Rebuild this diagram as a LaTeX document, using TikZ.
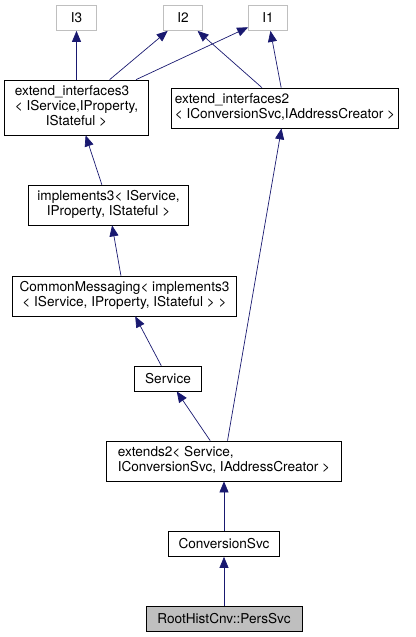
\documentclass[tikz,border=0pt]{standalone}
\usepackage{fontspec}
\setmainfont{TeX Gyre Heros}
\usepackage{tikz}
\usetikzlibrary{arrows.meta,positioning}

\definecolor{edgeblue}{HTML}{191970}
\definecolor{boxgray}{HTML}{BFBFBF}

\begin{document}
\begin{tikzpicture}[on grid,
	cls/.style={draw,rectangle,inner sep=0pt,line width=0.7pt,minimum height=25pt,
		font=\fontsize{13.6}{15}\selectfont},
	iface/.style={cls,draw=boxgray,minimum width=39pt},
	cur/.style={cls,fill=boxgray},
	edge/.style={-{Triangle[length=11pt,width=9pt]},draw=edgeblue,fill=edgeblue,line width=0.7pt}]
	\useasboundingbox (0,0) rectangle (415pt,-637pt);

	\node[cur,minimum width=156pt] (p_s) at (224pt,-619pt) {RootHistCnv::PersSvc};
	\node[cls,minimum width=111pt] (c_s) [above=75pt of p_s] {ConversionSvc};
	\node[cls,minimum width=235pt,minimum height=40pt] (e_2) [above=83pt of c_s]
		{\begin{tabular}{@{}l@{}}extends2< Service,\\\multicolumn{1}{@{}c@{}}{ IConversionSvc, IAddressCreator >}\end{tabular}};
	\node[cls,minimum width=67pt] (svc) [above left=82.5pt and 56pt of e_2] {Service};
	\node[cls,minimum width=224pt,minimum height=40pt] (c_m) [above left=82.5pt and 43.5pt of svc]
		{\begin{tabular}{@{}l@{}}CommonMessaging< implements3\\\multicolumn{1}{@{}c@{}}{< IService, IProperty, IStateful > >}\end{tabular}};
	\node[cls,minimum width=160pt,minimum height=40pt] (im_3) [above left=91pt and 16pt of c_m]
		{\begin{tabular}{@{}l@{}}implements3< IService,\\\multicolumn{1}{@{}c@{}}{ IProperty, IStateful >}\end{tabular}};
	\node[cls,minimum width=144pt,minimum height=55pt] (ei_3) [above left=97.5pt and 32pt of im_3]
		{\begin{tabular}{@{}l@{}}extend\_interfaces3\\< IService,IProperty,\\\multicolumn{1}{@{}c@{}}{IStateful >}\end{tabular}};
	\node[cls,minimum width=227pt,minimum height=40pt] (ei_2) [above right=353pt and 61pt of e_2]
		{\begin{tabular}{@{}l@{}}extend\_interfaces2\\\multicolumn{1}{@{}c@{}}{< IConversionSvc,IAddressCreator >}\end{tabular}};
	\node[iface,minimum width=40pt] (i_3) [above=89.5pt of ei_3] {I3};
	\node[iface] (i_2) [right=106.5pt of i_3] {I2};
	\node[iface] (i_1) [right=85pt of i_2] {I1};


	\path[edge]

	(ei_3) edge (i_3)
	       edge (i_2)
	       edge (i_1)

	(ei_2) edge (i_2)
	       edge (i_1)

	(im_3) edge (ei_3)
	(c_m)  edge (im_3)
	(svc)  edge (c_m)

	(e_2)  edge (svc)
	       edge (ei_2)

	(c_s)  edge (e_2)
	(p_s)  edge (c_s);

\end{tikzpicture}
\end{document}
